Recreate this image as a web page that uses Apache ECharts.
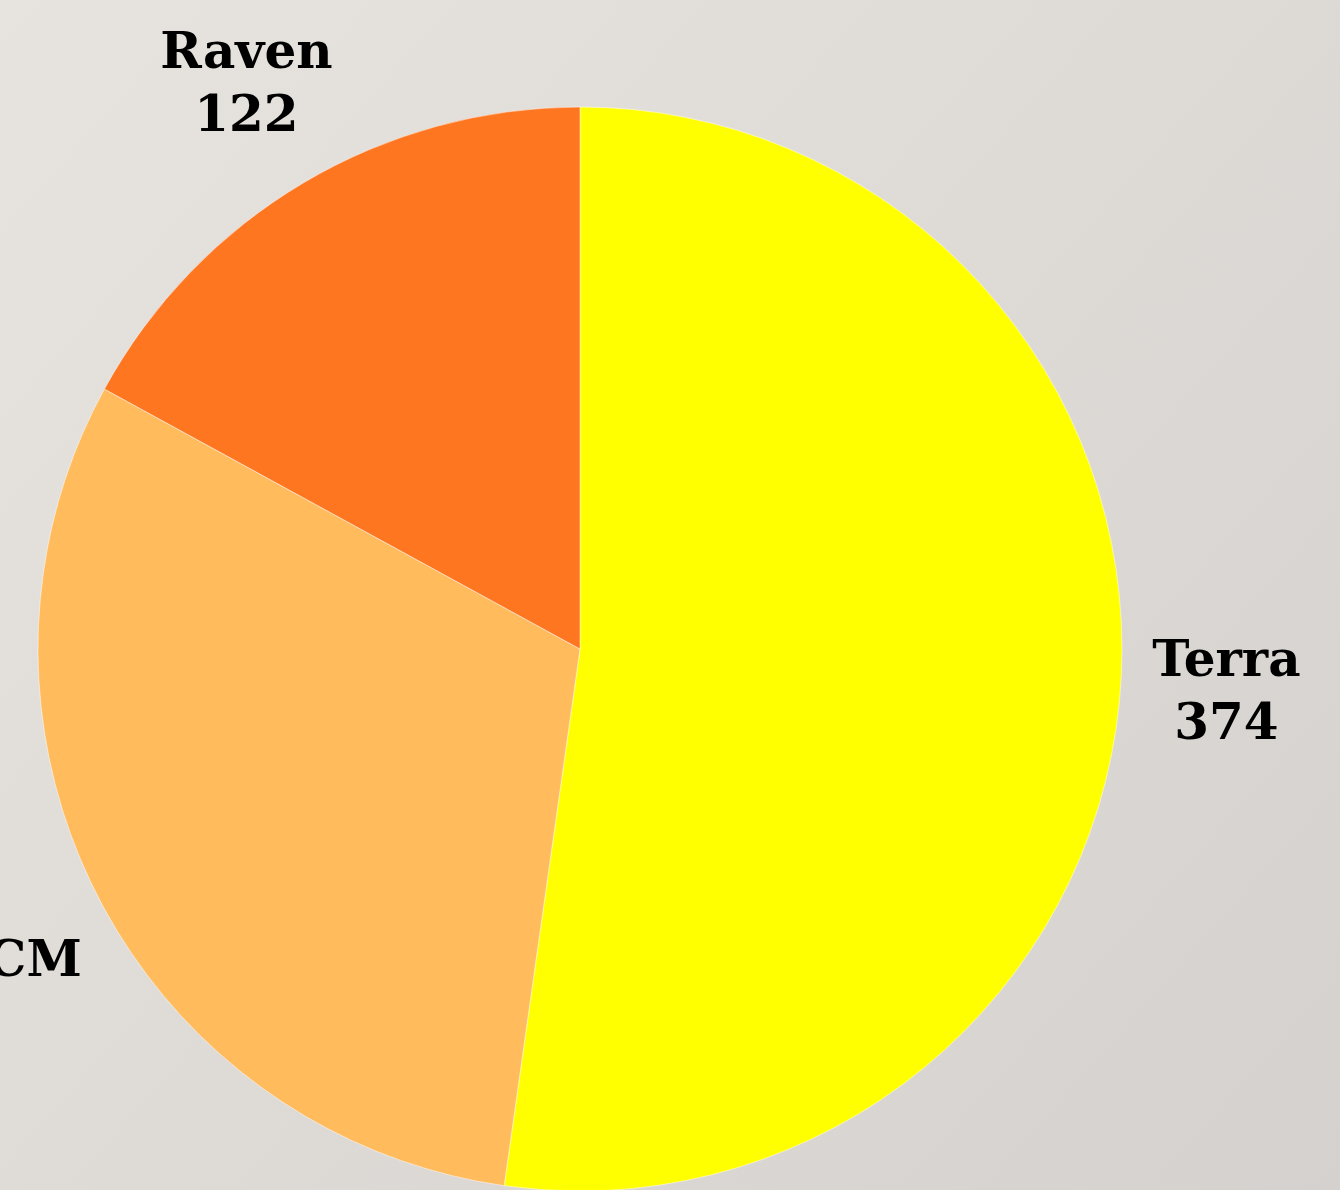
<!DOCTYPE html>
<html>
<head>
<meta charset="utf-8">
<script src="https://cdn.jsdelivr.net/npm/echarts@6/dist/echarts.min.js"></script>
<style>
  html, body { margin: 0; padding: 0; }
  #pieChart { width: 1340px; height: 1190px; }
</style>
</head>
<body>
<div id="pieChart"></div>
<script>
// slice names and values, clockwise from 12 o'clock
const names = ["Terra", "Vanguard CM", "Raven"];
const values = [374, 220, 122];
const colors = ["#FFFF00", "#FFBB5C", "#FF7621"];

const chartDom = document.getElementById("pieChart");
const myChart = echarts.init(chartDom);

const pieData = names.map((name, i) => ({
  name: name,
  value: values[i],
  itemStyle: { color: colors[i] },
}));

const option = {
  backgroundColor: {
    type: "linear",
    x: 0, y: 0, x2: 1, y2: 1,
    colorStops: [
      { offset: 0, color: "#e7e4e0" },
      { offset: 0.5, color: "#dedbd7" },
      { offset: 1, color: "#d4d1ce" },
    ],
  },
  series: [
    {
      type: "pie",
      center: [580, 649],
      radius: 542,
      startAngle: 90,
      clockwise: true,
      silent: true,
      itemStyle: {
        borderColor: "rgba(255,255,255,0.6)",
        borderWidth: 0.8,
      },
      label: {
        show: true,
        position: "outside",
        formatter: "{b}\n{c}",
        fontFamily: "DejaVu Serif",
        fontWeight: "bold",
        fontSize: 50,
        lineHeight: 63,
        color: "#000",
        width: 440,
        overflow: "none",
        distanceToLabelLine: 0,
      },
      labelLine: { show: false, length: 112, length2: 0 },
      // center each label block on its anchor; the long CM label runs off the left edge
      labelLayout: function (params) {
        const o = { align: "center", verticalAlign: "middle" };
        if (params.dataIndex === 0) {
          o.dx = -6;
        }
        if (params.dataIndex === 1) {
          o.dx = -104;
          o.dy = 52;
        }
        return o;
      },
      data: pieData,
    },
  ],
};

option && myChart.setOption(option);
</script>
</body>
</html>
